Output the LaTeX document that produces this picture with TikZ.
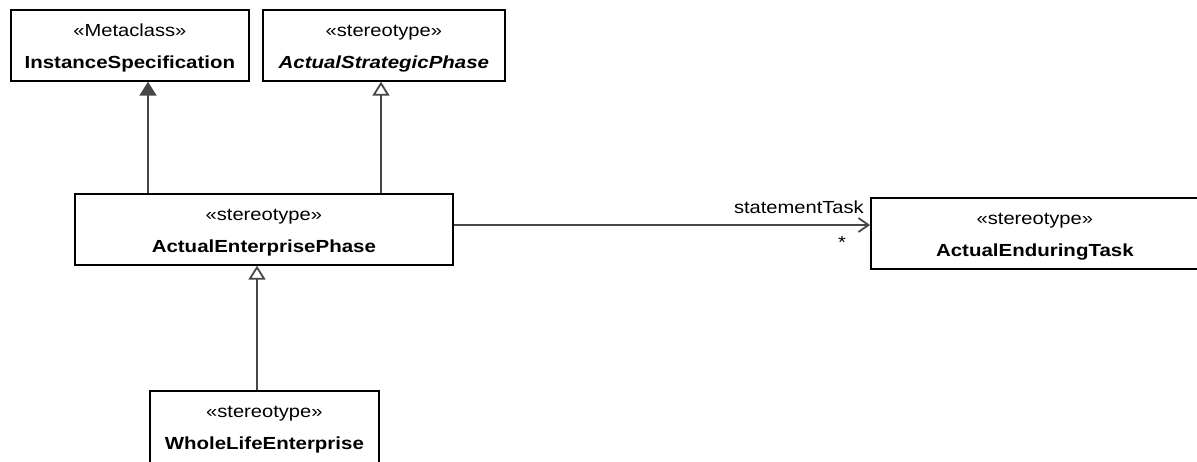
\documentclass[tikz,border=0pt]{standalone}
\usepackage{fontspec}
\setmainfont{Liberation Sans}
\usetikzlibrary{arrows.meta}
\begin{document}
\begin{tikzpicture}[x=1pt,y=-1pt,
  box/.style={draw=black, line width=1.7pt, rectangle, inner sep=0pt, anchor=north west},
  stereo/.style={anchor=base, inner sep=0pt, font=\fontsize{17.5}{20}\selectfont, xscale=1.15, transform shape},
  cname/.style={anchor=base, inner sep=0pt, font=\fontsize{17.5}{20}\selectfont\bfseries, xscale=1.17, transform shape},
  conn/.style={draw=black!72, line width=1.8pt},
  gen/.style={conn, -{Triangle[open, length=14pt, width=17pt, fill=white]}},
  genf/.style={conn, -{Triangle[length=14pt, width=17pt]}},
  assoc/.style={conn, -{Straight Barb[length=10pt, width=14pt, line width=1.8pt]}},
  lbl/.style={inner sep=0pt, font=\fontsize{17.5}{20}\selectfont, xscale=1.15, transform shape}
]
\useasboundingbox (0,0) rectangle (1197,461);

% boxes
\node[box, minimum width=238pt, minimum height=71pt] (is) at (10,9) {};
\node[stereo] (is1) at ([yshift=-27pt]is.north) {«Metaclass»};
\node[cname] (is2) at ([yshift=-59pt]is.north) {InstanceSpecification};

\node[box, minimum width=242pt, minimum height=71pt] (asp) at (262,9) {};
\node[stereo] (asp1) at ([yshift=-27pt]asp.north) {«stereotype»};
\node[cname] (asp2) at ([yshift=-59pt]asp.north) {\itshape ActualStrategicPhase};

\node[box, minimum width=378pt, minimum height=71pt] (aep) at (74,193) {};
\node[stereo] (aep1) at ([yshift=-27pt]aep.north) {«stereotype»};
\node[cname] (aep2) at ([yshift=-59pt]aep.north) {ActualEnterprisePhase};

\node[box, minimum width=328pt, minimum height=71pt] (aet) at (870,197) {};
\node[stereo] (aet1) at ([yshift=-27pt]aet.north) {«stereotype»};
\node[cname] (aet2) at ([yshift=-59pt]aet.north) {ActualEnduringTask};

\node[box, minimum width=229pt, minimum height=72pt] (wle) at (149,390) {};
\node[stereo] (wle1) at ([yshift=-27pt]wle.north) {«stereotype»};
\node[cname] (wle2) at ([yshift=-59pt]wle.north) {WholeLifeEnterprise};

% connectors
\draw[genf] (aep.north -| 148,0) -- (is.south -| 148,0);
\draw[gen] (aep.north -| 381,0) -- (asp.south -| 381,0);
\draw[gen] (wle.north -| 257,0) -- (aep.south -| 257,0);
\draw[assoc] (aep.east |- 0,225) -- (aet.west |- 0,225);

\node[lbl, anchor=base east] (role) at (864,213) {statementTask};
\node[lbl, anchor=base] (mult) at (842,248) {*};
\end{tikzpicture}
\end{document}
